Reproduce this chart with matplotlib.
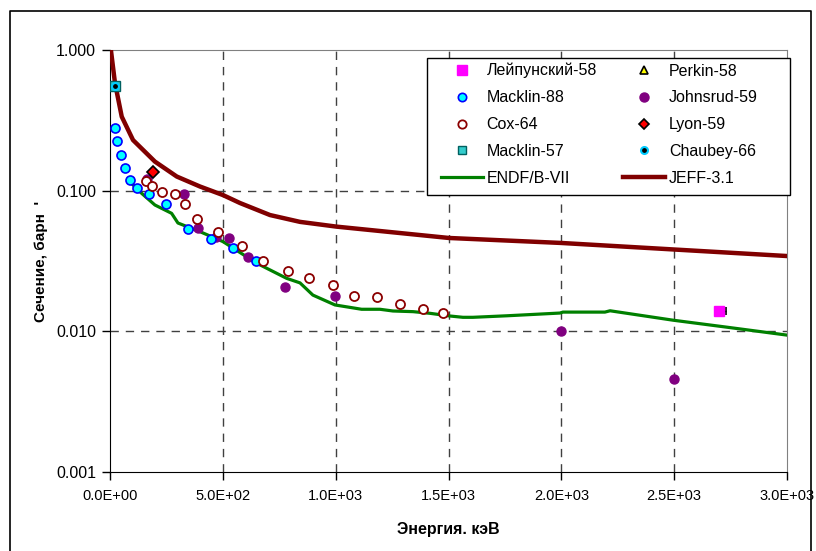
import matplotlib
matplotlib.use('Agg')
import matplotlib.pyplot as plt
from matplotlib.lines import Line2D
from matplotlib.patches import Rectangle

plt.rcParams['font.family'] = ['Liberation Sans', 'DejaVu Sans']

# --- data (energy in keV, cross section in barn) ---
jeff_e = [4, 22, 52, 102, 199, 296, 399, 501, 576, 709, 842, 1004, 1502, 1998, 3000]
jeff_s = [1.0, 0.583, 0.336, 0.229, 0.161, 0.126, 0.107, 0.093, 0.0817, 0.0671, 0.060,
          0.0555, 0.0461, 0.0425, 0.0343]

endf_e = [102, 140, 199, 273, 301, 399, 501, 650, 783, 842, 899, 997, 1115, 1196, 1254,
          1343, 1418, 1507, 1564, 1608, 1759, 1994, 2007, 2193, 2216, 2495, 2734, 3000]
endf_s = [0.110, 0.0958, 0.0791, 0.069, 0.0589, 0.0511, 0.0434, 0.0305, 0.0238, 0.0221,
          0.0181, 0.0154, 0.01435, 0.01435, 0.01395, 0.0138, 0.01343, 0.01285, 0.01258,
          0.01258, 0.0129, 0.01349, 0.0137, 0.0137, 0.0140, 0.0120, 0.0107, 0.0094]

macklin88_e = [22, 30, 49, 66, 89, 121, 173, 249, 346, 449, 545, 648]
macklin88_s = [0.280, 0.227, 0.178, 0.144, 0.119, 0.104, 0.0946, 0.080, 0.0534, 0.0451,
               0.0391, 0.0318]

cox_e = [160, 185, 229, 288, 334, 384, 480, 584, 679, 790, 882, 990, 1081, 1182, 1285,
         1388, 1477]
cox_s = [0.117, 0.108, 0.0984, 0.0942, 0.080, 0.0629, 0.0506, 0.0404, 0.0318, 0.0268,
         0.0238, 0.0212, 0.0179, 0.0175, 0.0156, 0.0145, 0.0136]

johnsrud_e = [162, 328, 391, 468, 527, 610, 775, 997, 2000, 2500]
johnsrud_s = [0.122, 0.0942, 0.0546, 0.0471, 0.0463, 0.0339, 0.0206, 0.0179, 0.0101, 0.00456]

lyon_e = [192]
lyon_s = [0.135]

macklin57_e = [22]
macklin57_s = [0.557]

chaubey_e = [22]
chaubey_s = [0.557]

leip_e = [2699]
leip_s = [0.0140]
leip_err_lo = [0]
leip_err_hi = [32]

perkin_e = []
perkin_s = []

x_ticks = [0, 500, 1000, 1500, 2000, 2500, 3000]
x_ticklabels = ['0.0E+00', '5.0E+02', '1.0E+03', '1.5E+03', '2.0E+03', '2.5E+03', '3.0E+03']
y_ticks = [0.001, 0.01, 0.1, 1.0]
y_ticklabels = ['0.001', '0.010', '0.100', '1.000']

fig = plt.figure(figsize=(8.16, 5.51), dpi=100)
ax = fig.add_axes([110 / 816, 79 / 551, 677 / 816, 422 / 551])

ax.set_yscale('log')
ax.set_xlim(0, 3000)
ax.set_ylim(0.001, 1.0)

# dashed grid on the inner ticks
for xv in x_ticks[1:-1]:
    ax.axvline(xv, color='#404040', lw=1, ls=(0, (6, 5)), zorder=1)
for yv in y_ticks[1:-1]:
    ax.axhline(yv, color='#404040', lw=1, ls=(0, (6, 5)), zorder=1)

ax.plot(endf_e, endf_s, color='#008000', lw=2.3, zorder=3)
ax.plot(jeff_e, jeff_s, color='#800000', lw=3.2, zorder=3)

ax.plot(perkin_e, perkin_s, ls='none', marker='^', ms=6, mfc='#FFFF00', mec='black')
ax.plot(macklin88_e, macklin88_s, ls='none', marker='o', ms=6.5, mfc='#00FFFF',
        mec='#0000FF', mew=1.2, zorder=5)
ax.plot(johnsrud_e, johnsrud_s, ls='none', marker='o', ms=6.5, mfc='#800080',
        mec='#800080', zorder=4)
ax.plot(cox_e, cox_s, ls='none', marker='o', ms=6.5, mfc='white', mec='#8B0000',
        mew=1.3, zorder=6)
ax.plot(lyon_e, lyon_s, ls='none', marker='D', ms=6, mfc='#FF0000', mec='black',
        mew=1.2, zorder=6)
ax.plot(macklin57_e, macklin57_s, ls='none', marker='s', ms=6.5, mfc='#33CCCC',
        mec='#006060', mew=1, zorder=6)
ax.plot(chaubey_e, chaubey_s, ls='none', marker='o', ms=5, mfc='black',
        mec='#00CCFF', mew=1.5, zorder=7)
ax.errorbar(leip_e, leip_s, xerr=[leip_err_lo, leip_err_hi], fmt='none', ecolor='black',
            elinewidth=1, capsize=3, capthick=1.2, zorder=5)
ax.plot(leip_e, leip_s, ls='none', marker='s', ms=6.5, mfc='#FF00FF', mec='#FF00FF',
        zorder=6)

ax.set_xticks(x_ticks)
ax.set_xticklabels(x_ticklabels, fontsize=10.5)
ax.set_yticks(y_ticks)
ax.set_yticklabels(y_ticklabels, fontsize=11.5)
ax.minorticks_off()
ax.tick_params(direction='out', length=6, width=1, pad=4)
ax.tick_params(axis='x', pad=6)

for side in ['top', 'right']:
    ax.spines[side].set_color('#808080')
for side in ['left', 'bottom']:
    ax.spines[side].set_color('black')

ax.set_xlabel('Энергия. кэВ', fontsize=11.5, fontweight='bold', labelpad=14)
ax.set_ylabel('Сечение, барн  \'', fontsize=11, fontweight='bold', labelpad=6)

# legend, filled column by column
handles = [
    Line2D([], [], ls='none', marker='s', ms=6.5, mfc='#FF00FF', mec='#FF00FF'),
    Line2D([], [], ls='none', marker='o', ms=6, mfc='#00FFFF', mec='#0000FF', mew=1.2),
    Line2D([], [], ls='none', marker='o', ms=6, mfc='white', mec='#8B0000', mew=1.3),
    Line2D([], [], ls='none', marker='s', ms=6, mfc='#33CCCC', mec='#006060', mew=1),
    Line2D([], [], color='#008000', lw=2.3),
    Line2D([], [], ls='none', marker='^', ms=6, mfc='#FFFF00', mec='black', mew=1.2),
    Line2D([], [], ls='none', marker='o', ms=6.5, mfc='#800080', mec='#800080'),
    Line2D([], [], ls='none', marker='D', ms=5.5, mfc='#FF0000', mec='black', mew=1.2),
    Line2D([], [], ls='none', marker='o', ms=5, mfc='black', mec='#00CCFF', mew=1.5),
    Line2D([], [], color='#800000', lw=3.2),
]
labels = ['Лейпунский-58', 'Macklin-88', 'Cox-64', 'Macklin-57', 'ENDF/B-VII',
          'Perkin-58', 'Johnsrud-59', 'Lyon-59', 'Chaubey-66', 'JEFF-3.1']
leg = fig.legend(handles, labels, ncol=2, loc='upper left',
                 bbox_to_anchor=(441 / 816, 1 - 63 / 551),
                 fontsize=11.5, frameon=False,
                 handlelength=2.6, handletextpad=0.25, labelspacing=0.74,
                 borderpad=0, borderaxespad=0, columnspacing=1.65)

# legend box drawn separately (it is wider than its entries)
fig.add_artist(Rectangle((427 / 816, 1 - 195 / 551), 363 / 816, 137 / 551,
                         transform=fig.transFigure, facecolor='white',
                         edgecolor='black', lw=1, zorder=2.5))
leg.set_zorder(3)

# outer frame of the chart
fig.add_artist(Line2D([10 / 816, 10 / 816, 811 / 816, 811 / 816],
                      [-0.01, 1 - 11 / 551, 1 - 11 / 551, -0.01],
                      color='black', lw=1.2, transform=fig.transFigure))

fig.savefig('out.png', dpi=100)
